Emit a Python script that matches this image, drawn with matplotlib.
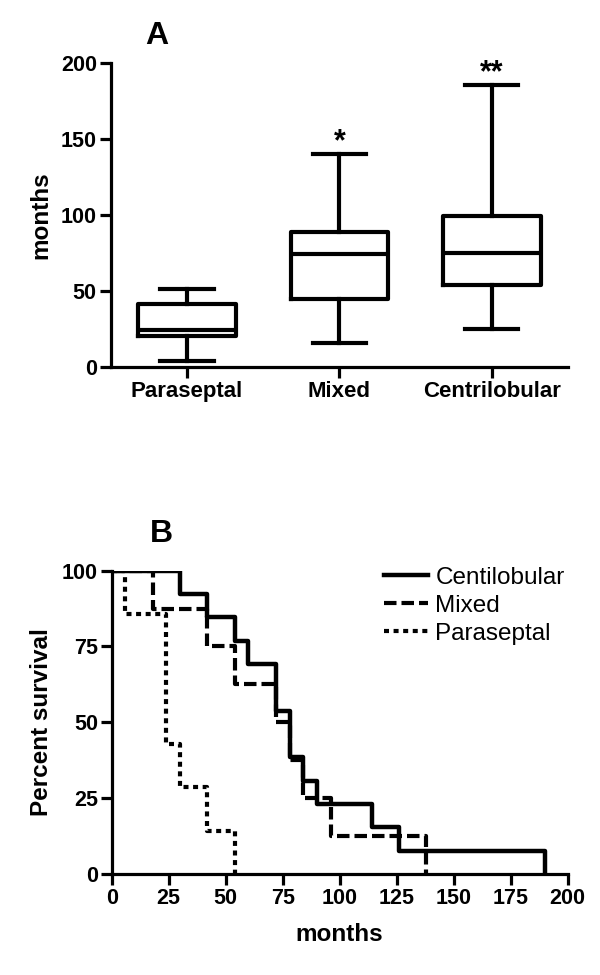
# two panels: box plot of months per emphysema type, Kaplan-Meier survival curves
import matplotlib
matplotlib.use("Agg")
import matplotlib.pyplot as plt
from matplotlib.lines import Line2D

plt.rcParams['font.family'] = ['Liberation Sans', 'DejaVu Sans']

# panel A: box plot summary (months)
groups = ['Paraseptal', 'Mixed', 'Centrilobular']
whisker_low = [4, 15.5, 25]
q1 = [20, 44.5, 54]
median = [24.5, 74.5, 75]
q3 = [41.5, 88.5, 99.5]
whisker_high = [51, 140, 185.5]
stars = ['', '*', '**']

# panel B: survival steps (months, percent survival)
centri_t = [0, 30, 42, 54, 60, 72, 78, 84, 90, 114, 126, 190]
centri_s = [100, 92.3, 84.6, 76.9, 69.2, 53.8, 38.5, 30.8, 23.1, 15.4, 7.7, 0]
mixed_t = [0, 18, 42, 54, 72, 78, 84, 96, 138]
mixed_s = [100, 87.5, 75, 62.5, 50, 37.5, 25, 12.5, 0]
para_t = [0, 6, 24, 30, 42, 54]
para_s = [100, 85.7, 42.9, 28.6, 14.3, 0]

fig = plt.figure(figsize=(6, 9.75), dpi=100)

axis_lw = 2.3

def style_axes(ax):
    for side in ['top', 'right']:
        ax.spines[side].set_visible(False)
    for side in ['left', 'bottom']:
        ax.spines[side].set_linewidth(axis_lw)
    ax.tick_params(direction='out', length=8, width=axis_lw, labelsize=15.5, pad=2)
    for lab in ax.get_xticklabels() + ax.get_yticklabels():
        lab.set_fontweight('bold')

# ---- panel A
axa = fig.add_axes([0.1845, 0.6239, 0.9467 - 0.1845, 0.935 - 0.6239])
stats = []
for i in range(len(groups)):
    stats.append({'label': groups[i], 'whislo': whisker_low[i], 'q1': q1[i],
                  'med': median[i], 'q3': q3[i], 'whishi': whisker_high[i], 'fliers': []})
box_lw = 3.0
axa.bxp(stats, positions=[1, 2, 3], widths=0.64, capwidths=0.35, showfliers=False,
        boxprops=dict(color='black', linewidth=box_lw),
        medianprops=dict(color='black', linewidth=box_lw),
        whiskerprops=dict(color='black', linewidth=box_lw),
        capprops=dict(color='black', linewidth=box_lw))
axa.set_xlim(0.5, 3.5)
axa.set_ylim(0, 200)
axa.set_yticks([0, 50, 100, 150, 200])
axa.set_xticks([1, 2, 3])
axa.set_xticklabels(groups)
axa.set_ylabel('months', fontsize=17.5, fontweight='bold', labelpad=6)
style_axes(axa)
for lab in axa.get_xticklabels():
    lab.set_fontsize(16)
for i in range(len(groups)):
    if stars[i]:
        axa.text(i + 1, whisker_high[i] - 2, stars[i], ha='center', va='bottom',
                 fontsize=22, fontweight='bold')
fig.text(157 / 600, 1 - 36 / 975, 'A', ha='center', va='center', fontsize=23, fontweight='bold')

# ---- panel B
axb = fig.add_axes([0.1862, 0.1036, 0.946 - 0.1862, 0.4147 - 0.1036])
curve_lw = 3.0
para_style = (0, (1.2, 1.1))
mixed_style = (0, (3.0, 1.2))
axb.step(para_t, para_s, where='post', color='black', linewidth=curve_lw,
         linestyle=para_style)
axb.step(mixed_t, mixed_s, where='post', color='black', linewidth=curve_lw,
         linestyle=mixed_style)
axb.step(centri_t, centri_s, where='post', color='black', linewidth=curve_lw + 0.2)
axb.set_xlim(0, 200)
axb.set_ylim(0, 100)
axb.set_xticks(range(0, 201, 25))
axb.set_yticks([0, 25, 50, 75, 100])
axb.set_xlabel('months', fontsize=17.5, fontweight='bold', labelpad=10)
axb.set_ylabel('Percent survival', fontsize=17.5, fontweight='bold', labelpad=6)
style_axes(axb)

handles = [Line2D([0], [0], color='black', linewidth=curve_lw + 0.2),
           Line2D([0], [0], color='black', linewidth=curve_lw, linestyle=mixed_style),
           Line2D([0], [0], color='black', linewidth=curve_lw, linestyle=para_style)]
axb.legend(handles, ['Centilobular', 'Mixed', 'Paraseptal'], loc='upper right',
           bbox_to_anchor=(1.015, 1.045), frameon=False, fontsize=17.5,
           handlelength=1.8, handletextpad=0.3, labelspacing=0.25, borderaxespad=0)
fig.text(161 / 600, 1 - 534 / 975, 'B', ha='center', va='center', fontsize=23, fontweight='bold')

plt.savefig('out.png', dpi=100)
plt.close()
